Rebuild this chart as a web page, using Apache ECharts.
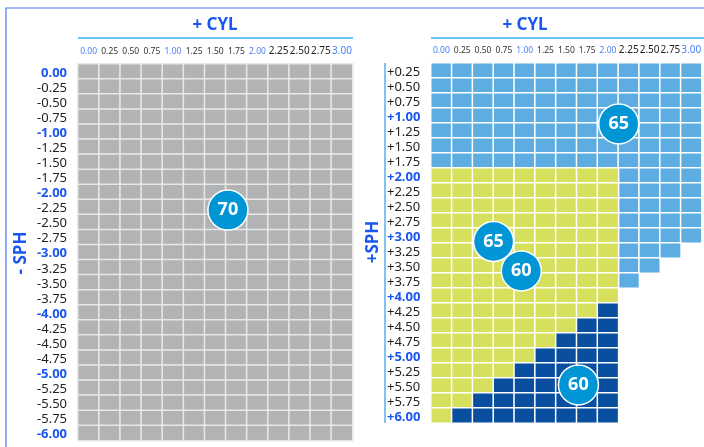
<!DOCTYPE html>
<html>
<head>
<meta charset="utf-8">
<script src="https://cdn.jsdelivr.net/npm/echarts@6/dist/echarts.min.js"></script>
<style>
  html, body { margin: 0; padding: 0; background: #fff; }
  #chart { width: 704px; height: 447px; }
</style>
</head>
<body>
<div id="chart"></div>
<script>
const cylLabels = ['0.00', '0.25', '0.50', '0.75', '1.00', '1.25', '1.50', '1.75', '2.00', '2.25', '2.50', '2.75', '3.00'];

const minusSphLabels = [
    '0.00', '-0.25', '-0.50', '-0.75', '-1.00', '-1.25', '-1.50', '-1.75', '-2.00',
    '-2.25', '-2.50', '-2.75', '-3.00', '-3.25', '-3.50', '-3.75', '-4.00',
    '-4.25', '-4.50', '-4.75', '-5.00', '-5.25', '-5.50', '-5.75', '-6.00',
];

const plusSphLabels = [
    '+0.25', '+0.50', '+0.75', '+1.00', '+1.25', '+1.50', '+1.75', '+2.00',
    '+2.25', '+2.50', '+2.75', '+3.00', '+3.25', '+3.50', '+3.75', '+4.00',
    '+4.25', '+4.50', '+4.75', '+5.00', '+5.25', '+5.50', '+5.75', '+6.00',
];

// one string per SPH row, one letter per CYL column ('.' = no cell)
const leftCells = [
    'GGGGGGGGGGGGG', 'GGGGGGGGGGGGG', 'GGGGGGGGGGGGG', 'GGGGGGGGGGGGG', 'GGGGGGGGGGGGG',
    'GGGGGGGGGGGGG', 'GGGGGGGGGGGGG', 'GGGGGGGGGGGGG', 'GGGGGGGGGGGGG', 'GGGGGGGGGGGGG',
    'GGGGGGGGGGGGG', 'GGGGGGGGGGGGG', 'GGGGGGGGGGGGG', 'GGGGGGGGGGGGG', 'GGGGGGGGGGGGG',
    'GGGGGGGGGGGGG', 'GGGGGGGGGGGGG', 'GGGGGGGGGGGGG', 'GGGGGGGGGGGGG', 'GGGGGGGGGGGGG',
    'GGGGGGGGGGGGG', 'GGGGGGGGGGGGG', 'GGGGGGGGGGGGG', 'GGGGGGGGGGGGG', 'GGGGGGGGGGGGG',
];

const rightCells = [
    'LLLLLLLLLLLLL', // +0.25
    'LLLLLLLLLLLLL',
    'LLLLLLLLLLLLL',
    'LLLLLLLLLLLLL', // +1.00
    'LLLLLLLLLLLLL',
    'LLLLLLLLLLLLL',
    'LLLLLLLLLLLLL',
    'YYYYYYYYYLLLL', // +2.00
    'YYYYYYYYYLLLL',
    'YYYYYYYYYLLLL',
    'YYYYYYYYYLLLL',
    'YYYYYYYYYLLLL', // +3.00
    'YYYYYYYYYLLL.',
    'YYYYYYYYYLL..',
    'YYYYYYYYYL...',
    'YYYYYYYYY....', // +4.00
    'YYYYYYYYD....',
    'YYYYYYYDD....',
    'YYYYYYDDD....',
    'YYYYYDDDD....', // +5.00
    'YYYYDDDDD....',
    'YYYDDDDDD....',
    'YYDDDDDDD....',
    'YDDDDDDDD....', // +6.00
];

const cellColors = { G: '#b1b3b5', L: '#5dade2', Y: '#d7e05c', D: '#0a4ea0' };

// [cyl, sph, number]
const leftBadges = [[1.65, -2.3, 70]];
const rightBadges = [[2.11, 1.14, 65], [0.62, 3.1, 65], [0.95, 3.59, 60], [1.63, 5.49, 60]];

const BLUE = '#1a56f0';
const FONT = 'Noto Sans';

const chart = echarts.init(document.getElementById('chart'));

function cellsFor(rows, code) {
    const out = [];
    rows.forEach((row, r) => {
        for (let i = 0; i < row.length; i++) {
            if (row[i] === code) out.push([i, r, 1]);
        }
    });
    return out;
}

function heatSeries(rows, code, gridIdx, border) {
    return {
        type: 'heatmap',
        xAxisIndex: gridIdx,
        yAxisIndex: gridIdx,
        data: cellsFor(rows, code),
        itemStyle: { color: cellColors[code], borderColor: border, borderWidth: 1.5 },
        emphasis: { disabled: true },
    };
}

function badgeSeries(data, gridIdx) {
    return {
        type: 'scatter',
        xAxisIndex: gridIdx,
        yAxisIndex: gridIdx,
        data: data,
        symbolSize: 40,
        itemStyle: { color: '#0096d6', borderColor: '#fff', borderWidth: 1.5, opacity: 1 },
        label: {
            show: true,
            position: 'inside',
            formatter: (p) => p.value[2],
            color: '#fff',
            fontFamily: FONT,
            fontWeight: 'bold',
            fontSize: 18,
        },
        z: 10,
    };
}

const xLabel = {
    interval: 0,
    margin: 8,
    formatter: function (v, i) {
        const big = i >= 9;
        const blue = /\.00$/.test(v);
        return '{' + (big ? 'l' : 's') + (blue ? 'b' : '') + '|' + v + '}';
    },
    rich: {
        s: { fontFamily: FONT, fontSize: 8.5, color: '#333' },
        sb: { fontFamily: FONT, fontSize: 8.5, color: '#4a80f5' },
        l: { fontFamily: FONT, fontSize: 10, color: '#222' },
        lb: { fontFamily: FONT, fontSize: 10, color: '#4a80f5' },
    },
};

function yLabel(align, margin) {
    return {
        interval: 0,
        align: align,
        margin: margin,
        formatter: function (v) {
            return /\.00$/.test(v) ? '{b|' + v + '}' : '{n|' + v + '}';
        },
        rich: {
            n: { fontFamily: FONT, fontSize: 13, color: '#222', padding: [3, 0, 0, 0] },
            b: { fontFamily: FONT, fontSize: 13, color: BLUE, fontWeight: 'bold', padding: [3, 0, 0, 0] },
        },
    };
}

const hidden = { show: false };

const option = {
    animation: false,
    grid: [
        { left: 78, top: 64, width: 274.5, height: 376.5 },
        { left: 431, top: 63, width: 274.5, height: 360 },
        { left: 78, top: 64, width: 274.5, height: 376.5 },
        { left: 431, top: 63, width: 274.5, height: 360 },
    ],
    xAxis: [
        { type: 'category', gridIndex: 0, position: 'top', data: cylLabels, axisLine: hidden, axisTick: hidden, splitLine: hidden, axisLabel: xLabel },
        { type: 'category', gridIndex: 1, position: 'top', data: cylLabels, axisLine: hidden, axisTick: hidden, splitLine: hidden, axisLabel: xLabel },
        { type: 'value', gridIndex: 2, min: -0.125, max: 3.125, show: false },
        { type: 'value', gridIndex: 3, min: -0.125, max: 3.125, show: false },
    ],
    yAxis: [
        { type: 'category', gridIndex: 0, inverse: true, data: minusSphLabels, axisLine: hidden, axisTick: hidden, splitLine: hidden, axisLabel: yLabel('right', 11) },
        { type: 'category', gridIndex: 1, inverse: true, data: plusSphLabels, axisLine: hidden, axisTick: hidden, splitLine: hidden, axisLabel: yLabel('left', 44) },
        { type: 'value', gridIndex: 2, min: -6.125, max: 0.125, show: false },
        { type: 'value', gridIndex: 3, min: 0.125, max: 6.125, inverse: true, show: false },
    ],
    series: [
        heatSeries(leftCells, 'G', 0, '#e8e8e8'),
        heatSeries(rightCells, 'L', 1, '#ffffff'),
        heatSeries(rightCells, 'Y', 1, '#ffffff'),
        heatSeries(rightCells, 'D', 1, '#ffffff'),
        badgeSeries(leftBadges, 2),
        badgeSeries(rightBadges, 3),
    ],
    graphic: [
        {
            type: 'rect',
            shape: { x: 6, y: 8, width: 800, height: 600 },
            style: { fill: 'none', stroke: '#4a78f5', lineWidth: 1.2 },
        },
        { type: 'line', shape: { x1: 78, y1: 38, x2: 353, y2: 38 }, style: { stroke: '#3ab0ef', lineWidth: 1.5 } },
        { type: 'line', shape: { x1: 431, y1: 38, x2: 704, y2: 38 }, style: { stroke: '#3ab0ef', lineWidth: 1.5 } },
        { type: 'line', shape: { x1: 385, y1: 63, x2: 385, y2: 423 }, style: { stroke: '#5aaee8', lineWidth: 1.5 } },
        {
            type: 'text', x: 215, y: 25,
            style: { text: '+ CYL', fill: BLUE, font: 'bold 17px "Noto Sans"', align: 'center', verticalAlign: 'middle' },
        },
        {
            type: 'text', x: 525, y: 25,
            style: { text: '+ CYL', fill: BLUE, font: 'bold 17px "Noto Sans"', align: 'center', verticalAlign: 'middle' },
        },
        {
            type: 'text', x: 21, y: 253, rotation: Math.PI / 2,
            style: { text: '- SPH', fill: BLUE, font: 'bold 17px "Noto Sans"', align: 'center', verticalAlign: 'middle' },
        },
        {
            type: 'text', x: 373, y: 242, rotation: Math.PI / 2,
            style: { text: '+SPH', fill: BLUE, font: 'bold 17px "Noto Sans"', align: 'center', verticalAlign: 'middle' },
        },
    ],
};

chart.setOption(option);
</script>
</body>
</html>
